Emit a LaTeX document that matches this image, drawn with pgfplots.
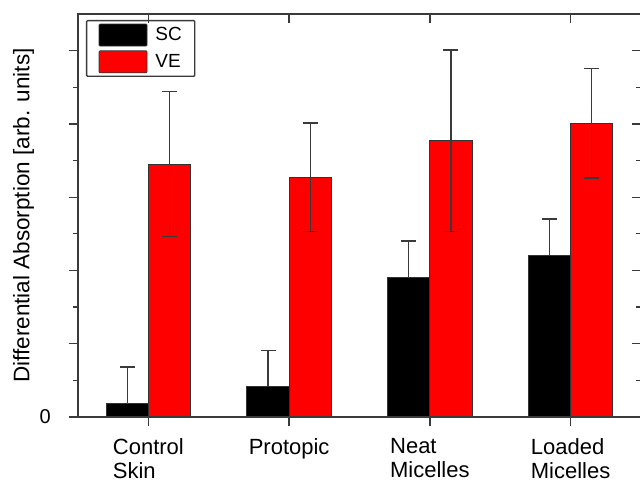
\documentclass[border=0pt]{standalone}
\usepackage{pgfplots}
\pgfplotsset{compat=1.18}
\usepackage{fontspec}
\setmainfont{Liberation Sans}
\definecolor{axgray}{HTML}{3A3A3A}
\begin{document}
\begin{tikzpicture}
\begin{axis}[
  at={(0pt,0pt)}, anchor=south west,
  scale only axis, width=563pt, height=403pt,
  xmin=-0.5, xmax=3.5, ymin=0, ymax=5.5,
  xtick={0,1,2,3},
  xticklabels={Control\\Skin, Protopic, Neat\\Micelles, Loaded\\Micelles},
  xticklabel style={align=left, anchor=north, inner sep=0pt, font=\fontsize{22}{24}\selectfont},
  xticklabel shift=12pt,
  ytick={0,1,2,3,4,5},
  yticklabels={0,,,,,},
  yticklabel style={anchor=east, inner sep=0pt, font=\fontsize{20}{22}\selectfont},
  yticklabel shift=18pt,
  minor y tick num=1,
  tick align=outside, xtick pos=bottom, ytick pos=left,
  major tick length=9pt, minor tick length=5pt,
  axis line style={line width=1.3pt, color=axgray},
  every tick/.style={line width=1.3pt, color=axgray},
  every minor tick/.style={line width=1.3pt, color=axgray},
  ylabel={Differential Absorption [arb. units]},
  every axis y label/.style={at={(axis description cs:-0.0968,0.5)}, rotate=90, anchor=center, font=\fontsize{22.5}{25}\selectfont},
  legend style={at={(rel axis cs:0,1)}, anchor=north west, xshift=8pt, yshift=-6pt,
    draw=axgray, line width=1.3pt, rounded corners=1pt,
    inner xsep=12pt, inner ysep=3pt, row sep=4pt,
    font=\fontsize{19}{22}\selectfont,
    nodes={inner sep=1pt},
    /tikz/every odd column/.append style={column sep=7pt},
    /tikz/every even column/.append style={column sep=6pt}},
  legend cell align=left,
  legend image code/.code={\draw[#1, line width=0.8pt] (0pt,-11pt) rectangle (48pt,11pt);},
  clip=false,
]
\addplot[ybar, bar width=0.3, bar shift=0pt, fill=black, draw=black!80, line width=0.8pt,
  error bars/.cd, y dir=plus, y explicit,
  error bar style={line width=1.4pt, color=axgray},
  error mark options={rotate=90, mark size=7.5pt, line width=1.4pt, color=axgray}]
  coordinates {(-0.15,0.18) +- (0,0.50) (0.85,0.42) +- (0,0.49) (1.85,1.90) +- (0,0.50) (2.85,2.21) +- (0,0.49)};
\addlegendentry{SC}
\addplot[ybar, bar width=0.3, bar shift=0pt, fill=red, draw=black!80, line width=0.8pt,
  error bars/.cd, y dir=both, y explicit,
  error bar style={line width=1.4pt, color=axgray},
  error mark options={rotate=90, mark size=7.5pt, line width=1.4pt, color=axgray}]
  coordinates {(0.15,3.45) +- (0,0.99) (1.15,3.27) +- (0,0.74) (2.15,3.77) +- (0,1.24) (3.15,4.01) +- (0,0.75)};
\addlegendentry{VE}
\end{axis}
\begin{axis}[
  at={(0pt,0pt)}, anchor=south west,
  scale only axis, width=563pt, height=403pt,
  xmin=-0.5, xmax=3.5, ymin=0, ymax=5.5,
  xtick={0,1,2,3}, xticklabels={},
  ytick={0,1,2,3,4,5}, yticklabels={},
  minor y tick num=1,
  tick align=inside, xtick pos=top, ytick pos=right,
  major tick length=9pt, minor tick length=5pt,
  axis line style={line width=1.3pt, color=axgray},
  every tick/.style={line width=1.3pt, color=axgray},
  every minor tick/.style={line width=1.3pt, color=axgray},
]
\end{axis}
\pgfresetboundingbox
\path[use as bounding box] (-78pt,-68pt) rectangle (562pt,417pt);
\end{tikzpicture}
\end{document}
